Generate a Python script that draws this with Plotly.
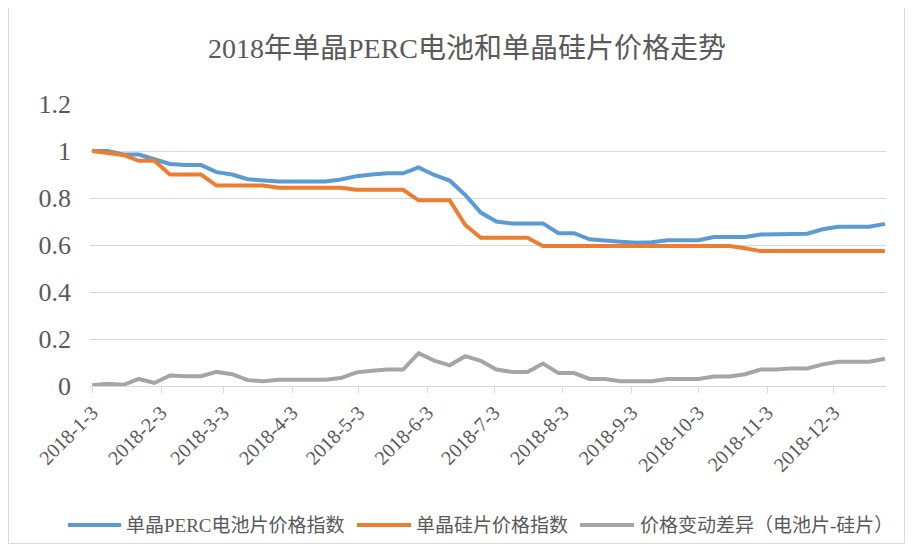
import pandas as pd
import plotly.graph_objects as go

dates = pd.date_range("2018-01-03", periods=52, freq="7D")

perc_cell = [1.0, 1.0, 0.985, 0.985, 0.965, 0.945, 0.94, 0.94, 0.91, 0.90,
             0.88, 0.875, 0.87, 0.87, 0.87, 0.87, 0.879, 0.893, 0.90, 0.905,
             0.905, 0.93, 0.898, 0.874, 0.813, 0.738, 0.70, 0.692, 0.692, 0.692,
             0.65, 0.65, 0.624, 0.621, 0.614, 0.61, 0.612, 0.62, 0.62, 0.62,
             0.634, 0.634, 0.634, 0.645, 0.645, 0.648, 0.648, 0.667, 0.678, 0.678,
             0.678, 0.69]

wafer = [1.0, 0.99, 0.983, 0.958, 0.958, 0.90, 0.90, 0.90, 0.853, 0.853,
         0.853, 0.853, 0.844, 0.844, 0.844, 0.844, 0.844, 0.835, 0.835, 0.835,
         0.835, 0.79, 0.79, 0.79, 0.685, 0.631, 0.631, 0.631, 0.631, 0.596,
         0.596, 0.596, 0.596, 0.596, 0.596, 0.596, 0.596, 0.596, 0.596, 0.596,
         0.596, 0.596, 0.586, 0.574, 0.574, 0.574, 0.574, 0.574, 0.574, 0.574,
         0.574, 0.574]

spread = [0.003, 0.01, 0.005, 0.03, 0.013, 0.045, 0.042, 0.042, 0.06, 0.05,
          0.025, 0.02, 0.027, 0.027, 0.027, 0.027, 0.034, 0.058, 0.065, 0.07,
          0.07, 0.14, 0.108, 0.088, 0.127, 0.107, 0.07, 0.06, 0.06, 0.096,
          0.055, 0.055, 0.03, 0.03, 0.02, 0.02, 0.02, 0.03, 0.03, 0.03,
          0.04, 0.04, 0.05, 0.07, 0.07, 0.075, 0.075, 0.092, 0.103, 0.103,
          0.103, 0.116]

tick_dates = ["2018-01-03", "2018-02-03", "2018-03-03", "2018-04-03", "2018-05-03",
              "2018-06-03", "2018-07-03", "2018-08-03", "2018-09-03", "2018-10-03",
              "2018-11-03", "2018-12-03"]
tick_labels = ["2018-1-3", "2018-2-3", "2018-3-3", "2018-4-3", "2018-5-3", "2018-6-3",
               "2018-7-3", "2018-8-3", "2018-9-3", "2018-10-3", "2018-11-3", "2018-12-3"]

series_names = ["单晶PERC电池片价格指数", "单晶硅片价格指数", "价格变动差异（电池片-硅片）"]
colors = ["#5B9BD5", "#ED7D31", "#A5A5A5"]

FONT = "Liberation Serif, 'Times New Roman', 'Noto Sans CJK SC', serif"

fig = go.Figure()
for name, vals, col in zip(series_names, [perc_cell, wafer, spread], colors):
    fig.add_trace(go.Scatter(x=dates, y=vals, mode="lines", name=name,
                             line=dict(color=col, width=4), showlegend=False))

# page body has an 8px margin: figure pixel = screen pixel - 8
OFF = 8
W, H = 913 - 2 * OFF, 552 - 2 * OFF
L = 90 - OFF
T = 104 - OFF
R = W - (886 - OFF)
B = H - (386 - OFF)
pw, ph = W - L - R, H - T - B

def sx(px):  # screen x -> paper x
    return (px - OFF - L) / pw

def sy(py):  # screen y -> paper y
    return (H - B - (py - OFF)) / ph

shapes = [dict(type="rect", xref="paper", yref="paper",
               x0=sx(OFF + 0.5), x1=sx(OFF + W - 0.5),
               y0=sy(OFF + H - 0.5), y1=sy(-10),
               line=dict(color="#d9d9d9", width=1), fillcolor="rgba(0,0,0,0)", layer="below")]

# legend drawn manually (line sample + label) below the plot
legend_y = 525
legend_items = [(68, 121, 124), (357, 411, 414), (580, 634, 638)]
annotations = []
for (lx0, lx1, tx), name, col in zip(legend_items, series_names, colors):
    shapes.append(dict(type="line", xref="paper", yref="paper",
                       x0=sx(lx0), x1=sx(lx1), y0=sy(legend_y), y1=sy(legend_y),
                       line=dict(color=col, width=4)))
    annotations.append(dict(text=name, xref="paper", yref="paper", x=sx(tx), y=sy(legend_y),
                            xanchor="left", yanchor="middle", showarrow=False,
                            font=dict(size=19, color="#595959", family=FONT)))

fig.update_layout(
    width=W, height=H,
    margin=dict(l=L, r=R, t=T, b=B, autoexpand=False),
    paper_bgcolor="white", plot_bgcolor="white",
    font=dict(family=FONT, color="#595959"),
    title=dict(text="2018年单晶PERC电池和单晶硅片价格走势", x=(467 - OFF) / W, xref="container",
               xanchor="center", y=1 - (48 - OFF) / H, yanchor="middle",
               font=dict(size=28, color="#595959", family=FONT)),
    showlegend=False,
    shapes=shapes,
    annotations=annotations,
    xaxis=dict(type="date", range=["2018-01-02", "2018-12-26 12:00"],
               tickmode="array", tickvals=tick_dates, ticktext=tick_labels,
               tickangle=-45, tickfont=dict(size=20, color="#595959", family=FONT),
               showgrid=False, showline=True, linecolor="#d9d9d9", linewidth=1,
               ticks="outside", ticklen=6, tickcolor="#d9d9d9", zeroline=False,
               automargin=False),
    yaxis=dict(range=[0, 1.2], tickvals=[0, 0.2, 0.4, 0.6, 0.8, 1, 1.2],
               ticktext=["0", "0.2", "0.4", "0.6", "0.8", "1", "1.2"],
               tickfont=dict(size=26, color="#595959", family=FONT),
               showgrid=True, gridcolor="#d9d9d9", gridwidth=1,
               zeroline=False, ticks="", ticklabelstandoff=18, automargin=False),
)

fig.write_html("out.html")
